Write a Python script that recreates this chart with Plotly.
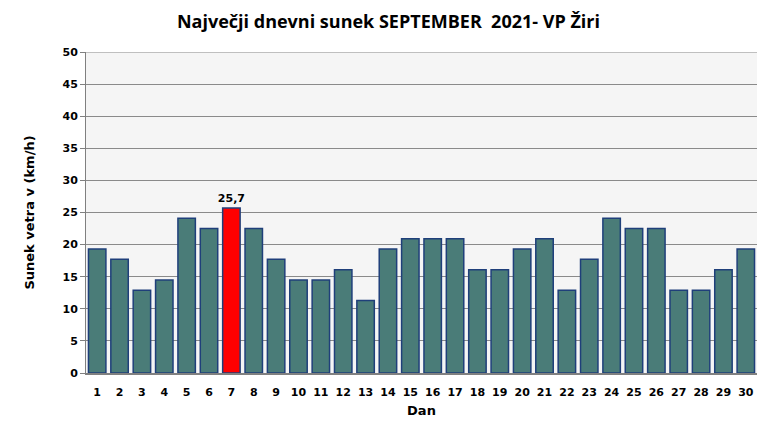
import plotly.graph_objects as go

days = [str(i) for i in range(1, 31)]
values = [19.3, 17.7, 12.9, 14.5, 24.1, 22.5, 25.7, 22.5, 17.7, 14.5,
          14.5, 16.1, 11.3, 19.3, 20.9, 20.9, 20.9, 16.1, 16.1, 19.3,
          20.9, 12.9, 17.7, 24.1, 22.5, 22.5, 12.9, 12.9, 16.1, 19.3]
y_ticks = [0, 5, 10, 15, 20, 25, 30, 35, 40, 45, 50]

max_v = max(values)
colors = ["#ff0000" if v == max_v else "#4a7c78" for v in values]
labels = [f"{v:.1f}".replace(".", ",") if v == max_v else "" for v in values]

fig = go.Figure(go.Bar(
    x=days, y=values,
    marker=dict(color=colors, line=dict(color="#1f3f7a", width=1.5)),
    text=labels, textposition="outside", constraintext="none",
    textfont=dict(family="DejaVu Sans", size=11, color="black", weight="bold"),
    cliponaxis=False,
))

fig.update_layout(
    width=761, height=431,
    margin=dict(l=78, r=12, t=44, b=66, autoexpand=False),
    paper_bgcolor="white",
    plot_bgcolor="#f5f5f5",
    bargap=0.22,
    showlegend=False,
    title=dict(text="<b>Največji dnevni sunek SEPTEMBER  2021- VP Žiri</b>",
               x=0.5, xanchor="center", y=0.968, yanchor="middle",
               font=dict(family="Open Sans", size=18, color="black")),
    font=dict(family="DejaVu Sans", color="black"),
)
fig.update_xaxes(
    title=dict(text="<b>Dan</b>", font=dict(size=13), standoff=8),
    tickfont=dict(size=11, weight="bold"),
    showgrid=False, showline=True, linecolor="#808080", linewidth=1.5,
    ticks="outside", ticklen=8, tickcolor="rgba(0,0,0,0)", automargin=False,
)
fig.update_yaxes(
    range=[0, 50], tickvals=y_ticks,
    title=dict(text="<b>Sunek vetra v (km/h)</b>", font=dict(size=13), standoff=24),
    tickfont=dict(size=11, weight="bold"),
    showgrid=True, gridcolor="#8a8a8a", gridwidth=1.2,
    showline=True, linecolor="#808080", linewidth=1,
    ticks="outside", ticklen=5, tickcolor="#808080",
    zeroline=False, automargin=False,
)
fig.add_shape(type="line", xref="paper", yref="y", x0=0, x1=1, y0=50, y1=50,
              line=dict(color="#8a8a8a", width=1.2))
fig.write_html("out.html")
